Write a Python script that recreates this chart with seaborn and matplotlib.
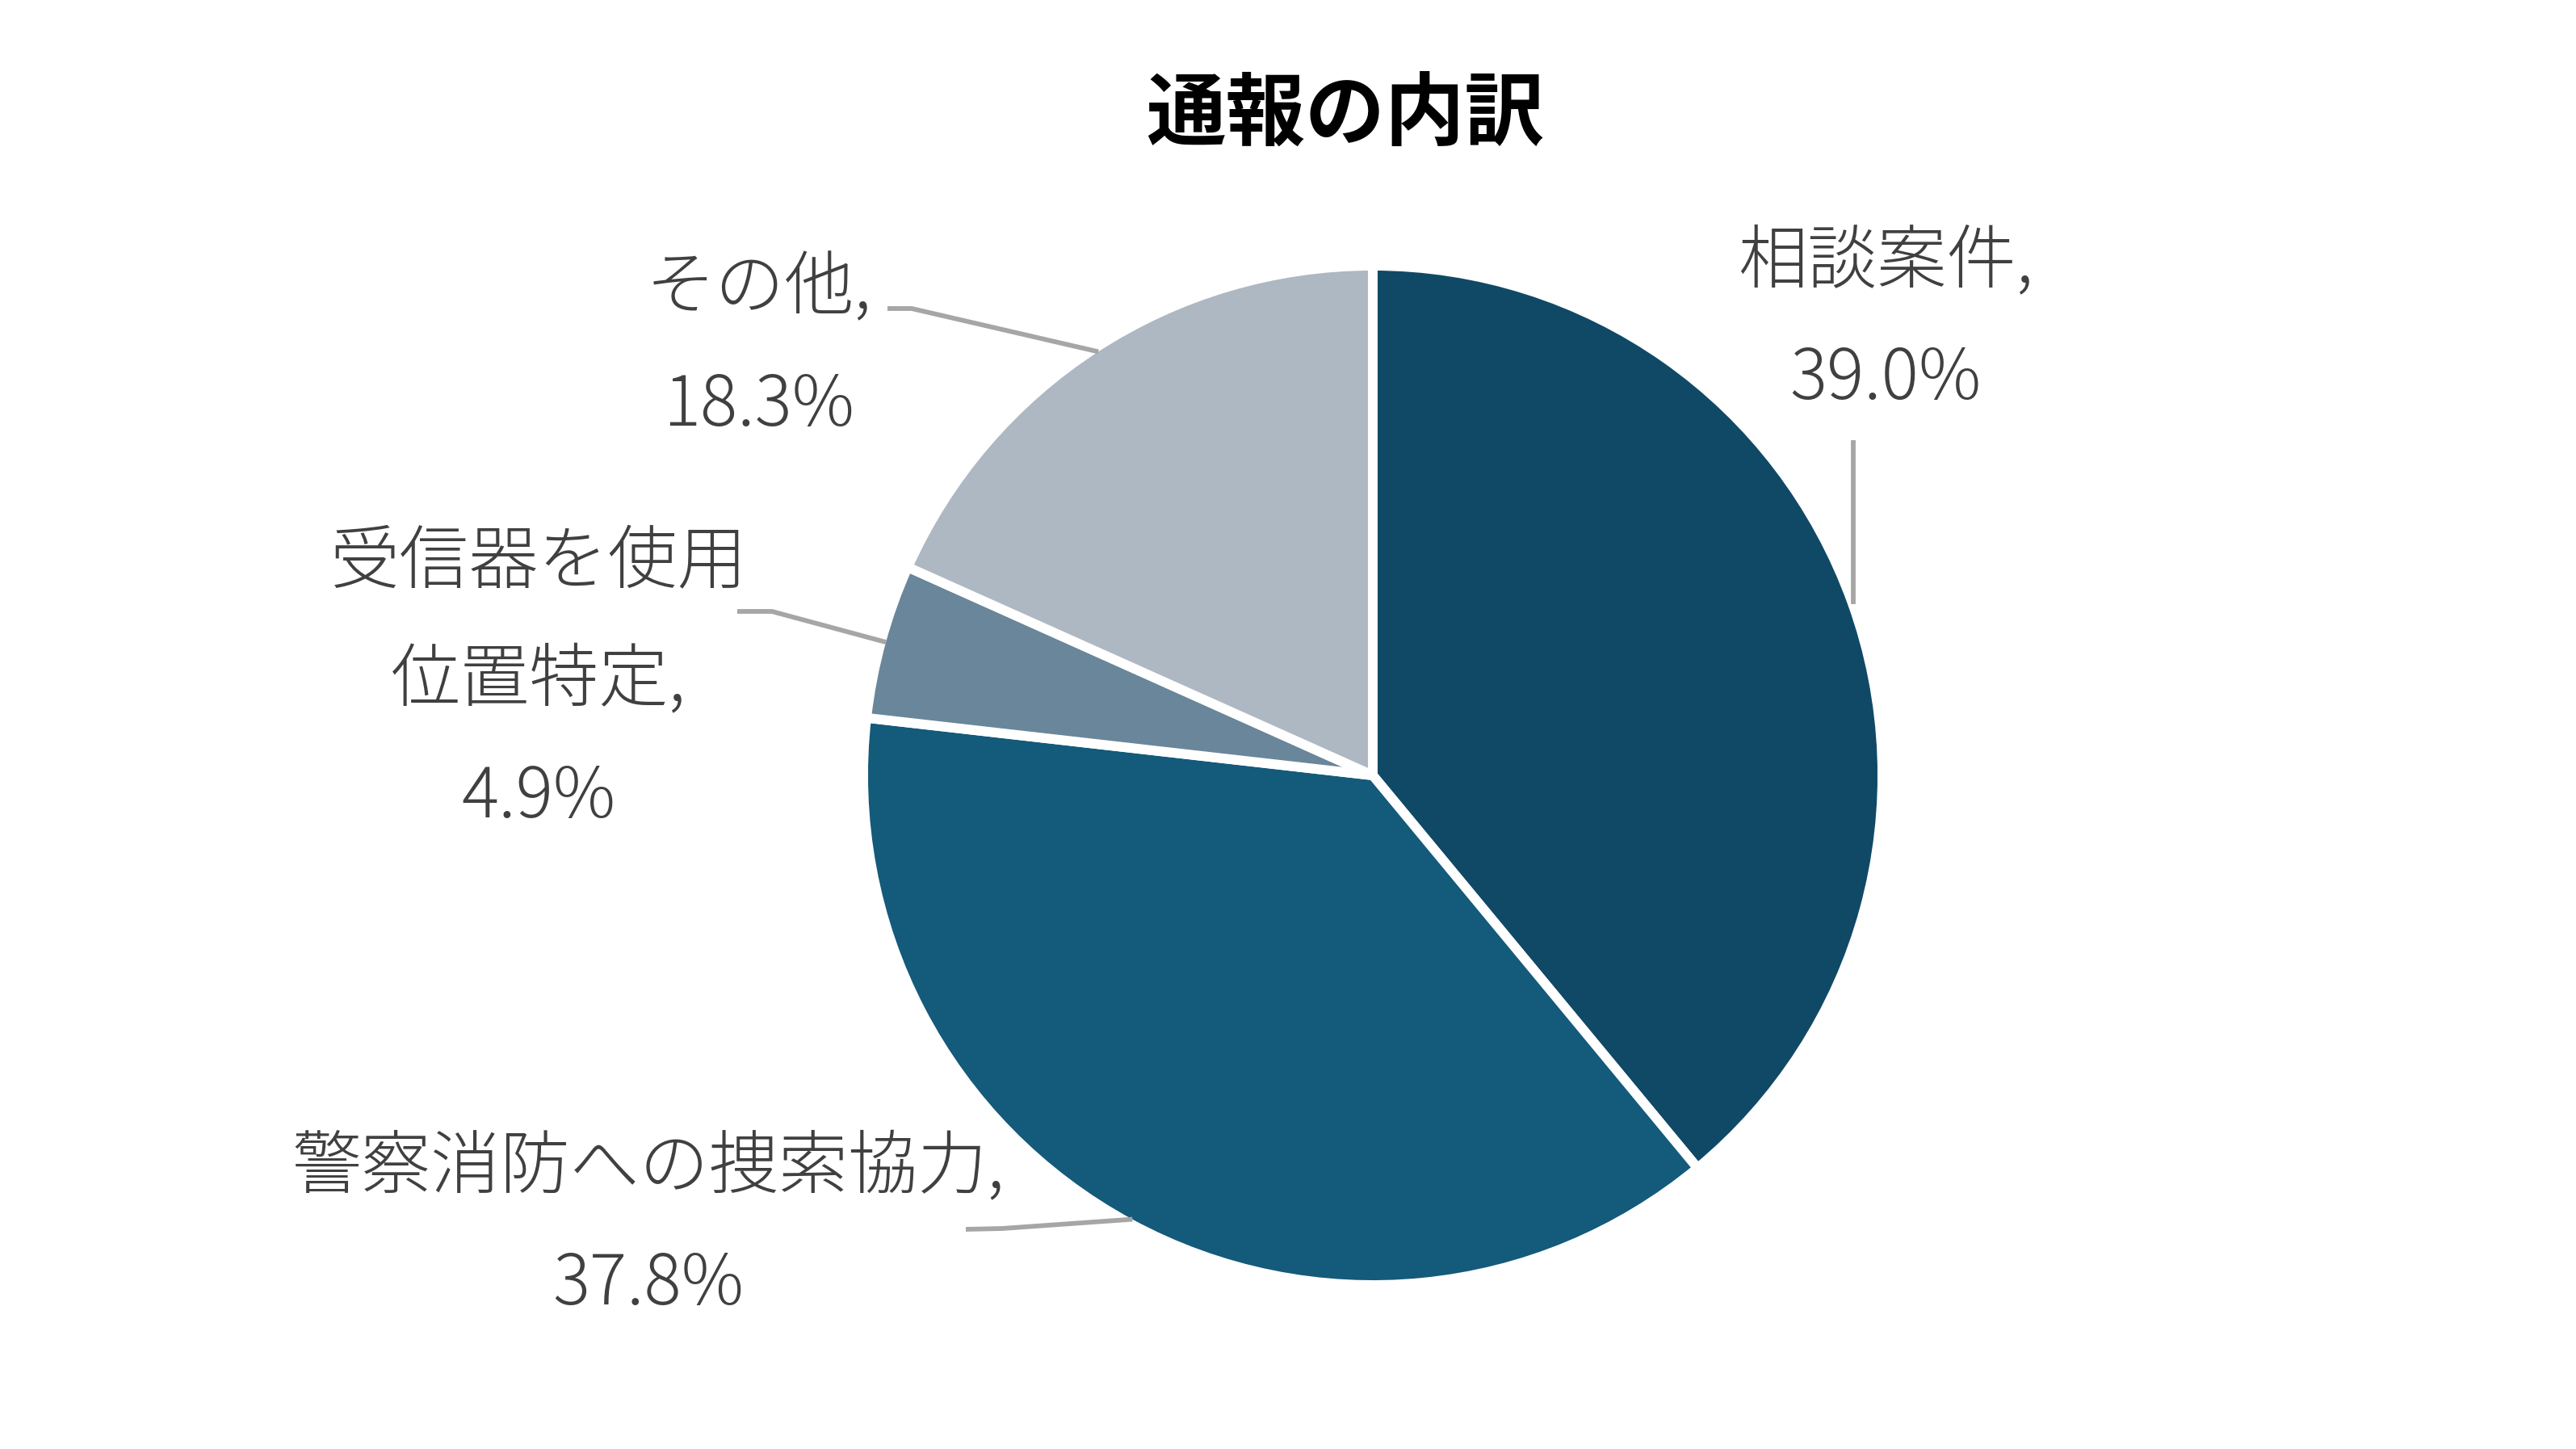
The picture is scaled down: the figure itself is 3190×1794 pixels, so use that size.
import numpy as np
import matplotlib
matplotlib.use("Agg")
import matplotlib.pyplot as plt
import seaborn as sns

# ---- data ----
categories = ["相談案件", "警察消防への捜索協力", "受信器を使用\n位置特定", "その他"]
shares = [39.0, 37.8, 4.9, 18.3]
colors = ["#104966", "#145A7A", "#6A869A", "#AEB8C3"]
title = "通報の内訳"

sns.set_theme(style="white")
plt.rcParams["font.family"] = ["Noto Sans CJK JP", "DejaVu Sans"]

W, H = 3190, 1794
fig = plt.figure(figsize=(W / 100, H / 100), dpi=100)
ax = fig.add_axes([0, 0, 1, 1])


def Y(y):
    return H - y


cx, cy, R = 1700, 960, 631
wedges, _ = ax.pie(
    shares,
    colors=colors,
    startangle=90,
    counterclock=False,
    center=(cx, Y(cy)),
    radius=R,
    wedgeprops=dict(edgecolor="white", linewidth=8.6, joinstyle="round"),
    frame=True,
)
ax.set_xlim(0, W)
ax.set_ylim(0, H)
ax.set_aspect("equal")
ax.axis("off")

# label layout: (center x, first line y) and leader line start points
label_pos = [(2335, 325), (803, 1446), (667, 698), (940, 358)]
leader_pts = [
    [(2295, 545)],
    [(1196, 1522), (1241, 1521)],
    [(913, 757), (956, 757)],
    [(1099, 382), (1129, 382)],
]
step = 145
r_edge = 625
text_color = "#404040"

for w, cat, val, (lx, ly), pts in zip(wedges, categories, shares, label_pos, leader_pts):
    lines = cat.split("\n")
    lines[-1] = lines[-1] + ","
    lines.append(f"{val:.1f}%")
    for i, t in enumerate(lines):
        ax.text(lx, Y(ly + i * step), t, ha="center", va="center",
                fontsize=62, color=text_color, fontweight="light")
    mid = np.deg2rad((w.theta1 + w.theta2) / 2)
    ex, ey = cx + r_edge * np.cos(mid), cy - r_edge * np.sin(mid)
    if len(pts) == 1:
        xs = [pts[0][0], pts[0][0]]
        ys = [Y(pts[0][1]), Y(ey)]
    else:
        xs = [p[0] for p in pts] + [ex]
        ys = [Y(p[1]) for p in pts] + [Y(ey)]
    ax.plot(xs, ys, color="#A6A6A6", lw=4.2, solid_capstyle="butt")

ax.text(1666, Y(142), title, ha="center", va="center", fontsize=71,
        fontweight="bold", color="black")

fig.savefig("out.png", dpi=100, facecolor="white")
